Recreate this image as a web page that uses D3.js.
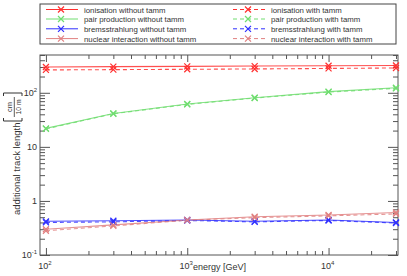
<!DOCTYPE html>
<html>
<head>
<meta charset="utf-8">
<script src="https://cdn.jsdelivr.net/npm/d3@7"></script>
<style>
  body { margin: 0; background: #fff; }
  svg { font-family: "Liberation Sans", Arial, sans-serif; }
</style>
</head>
<body>
<div id="chart"></div>
<script>
const energies = [100, 300, 1000, 3000, 10000, 30000];

const ionNo = [300, 305, 308, 312, 316, 320];
const ionTamm = [265, 268, 272, 276, 282, 288];
const pairNo = [22, 41.5, 62, 81, 105, 124];
const pairTamm = [21.5, 41, 61, 80, 103, 121];
const bremsNo = [0.42, 0.43, 0.445, 0.42, 0.445, 0.40];
const bremsTamm = [0.40, 0.41, 0.435, 0.41, 0.435, 0.39];
const nuclNo = [0.30, 0.36, 0.445, 0.51, 0.55, 0.61];
const nuclTamm = [0.28, 0.345, 0.44, 0.49, 0.53, 0.575];

const yMajor = [0.1, 1, 10, 100];
const xMajor = [100, 1000, 10000];

const series = [
  { name: 'ionisation without tamm', values: ionNo, color: '#ff3030', dash: null },
  { name: 'pair production without tamm', values: pairNo, color: '#70dd70', dash: null },
  { name: 'bremsstrahlung without tamm', values: bremsNo, color: '#3030ff', dash: null },
  { name: 'nuclear interaction without tamm', values: nuclNo, color: '#e08080', dash: null },
  { name: 'ionisation with tamm', values: ionTamm, color: '#ff3030', dash: '4,3' },
  { name: 'pair production with tamm', values: pairTamm, color: '#70dd70', dash: '4,3' },
  { name: 'bremsstrahlung with tamm', values: bremsTamm, color: '#3030ff', dash: '4,3' },
  { name: 'nuclear interaction with tamm', values: nuclTamm, color: '#e08080', dash: '4,3' }
];

const W = 407, H = 276;
const m = { left: 40, right: 9, top: 55, bottom: 21 };

const svg = d3.select('#chart').append('svg')
  .attr('width', W).attr('height', H);

const x = d3.scaleLog().domain([90.8, 31000]).range([m.left, W - m.right]);
const y = d3.scaleLog().domain([0.1, 500]).range([H - m.bottom, m.top]);

const axisColor = '#555';
const textColor = '#333';

// minor ticks
const xMinor = [];
[100, 1000, 10000].forEach(d => { for (let k = 2; k <= 9; k++) if (d * k <= 31000) xMinor.push(d * k); });
const yMinor = [];
[0.1, 1, 10, 100].forEach(d => { for (let k = 2; k <= 9; k++) if (d * k <= 500) yMinor.push(d * k); });

function styleAxis(g) {
  g.select('.domain').remove();
  g.selectAll('line').attr('stroke', axisColor);
  g.selectAll('text').remove();
}

svg.append('g').attr('transform', `translate(0,${H - m.bottom})`)
  .call(d3.axisBottom(x).tickValues(xMajor).tickSize(-7)).call(styleAxis);
svg.append('g').attr('transform', `translate(0,${H - m.bottom})`)
  .call(d3.axisBottom(x).tickValues(xMinor).tickSize(-4)).call(styleAxis);
svg.append('g').attr('transform', `translate(0,${m.top})`)
  .call(d3.axisTop(x).tickValues(xMajor).tickSize(-7)).call(styleAxis);
svg.append('g').attr('transform', `translate(0,${m.top})`)
  .call(d3.axisTop(x).tickValues(xMinor).tickSize(-4)).call(styleAxis);
svg.append('g').attr('transform', `translate(${m.left},0)`)
  .call(d3.axisLeft(y).tickValues(yMajor).tickSize(-10)).call(styleAxis);
svg.append('g').attr('transform', `translate(${m.left},0)`)
  .call(d3.axisLeft(y).tickValues(yMinor).tickSize(-5)).call(styleAxis);
svg.append('g').attr('transform', `translate(${W - m.right},0)`)
  .call(d3.axisRight(y).tickValues(yMajor).tickSize(-10)).call(styleAxis);
svg.append('g').attr('transform', `translate(${W - m.right},0)`)
  .call(d3.axisRight(y).tickValues(yMinor).tickSize(-5)).call(styleAxis);

svg.append('rect')
  .attr('x', m.left).attr('y', m.top)
  .attr('width', W - m.left - m.right).attr('height', H - m.top - m.bottom)
  .attr('fill', 'none').attr('stroke', axisColor).attr('stroke-width', 1);

// tick labels
function powLabel(sel, v) {
  const e = Math.round(Math.log10(v));
  if (e === 0) { sel.text('1'); return; }
  if (e === 1) { sel.text('10'); return; }
  sel.append('tspan').text('10');
  sel.append('tspan').attr('dy', -4).attr('font-size', 6).text(String(e));
}

svg.append('g').selectAll('text').data(xMajor).join('text')
  .attr('x', d => x(d) - 1).attr('y', H - 7)
  .attr('text-anchor', 'middle').attr('font-size', 9).attr('fill', textColor)
  .each(function(d) { powLabel(d3.select(this), d); });

svg.append('g').selectAll('text').data(yMajor).join('text')
  .attr('x', m.left - 3).attr('y', d => y(d) + 3)
  .attr('text-anchor', 'end').attr('font-size', 9).attr('fill', textColor)
  .each(function(d) { powLabel(d3.select(this), d); });

svg.append('text').attr('x', 193).attr('y', H - 6)
  .attr('font-size', 9).attr('fill', textColor).text('energy [GeV]');

// y axis title: text, then [cm / 10 m] in brackets
const yt = svg.append('g').attr('transform', 'translate(19.5,215) rotate(-90)');
yt.append('text').attr('x', 0).attr('y', 0)
  .attr('font-size', 9.5).attr('fill', textColor).text('additional track length');
const b0 = 94, b1 = 122;
yt.append('path').attr('d', `M${b0 + 3},-16 L${b0},-16 L${b0},2.5 L${b0 + 3},2.5`)
  .attr('fill', 'none').attr('stroke', textColor).attr('stroke-width', 1);
yt.append('path').attr('d', `M${b1 - 3},-16 L${b1},-16 L${b1},2.5 L${b1 - 3},2.5`)
  .attr('fill', 'none').attr('stroke', textColor).attr('stroke-width', 1);
const fc = (b0 + b1) / 2;
yt.append('text').attr('x', fc).attr('y', -7.5).attr('text-anchor', 'middle')
  .attr('font-size', 7.5).attr('fill', textColor).text('cm');
yt.append('line').attr('x1', b0 + 4).attr('x2', b1 - 4).attr('y1', -5.2).attr('y2', -5.2)
  .attr('stroke', textColor).attr('stroke-width', 0.8);
yt.append('text').attr('x', fc).attr('y', 1.5).attr('text-anchor', 'middle')
  .attr('font-size', 6.8).attr('fill', textColor).text('10 m');

// data
const line = d3.line().x((d, i) => x(energies[i])).y(d => y(d));
const plot = svg.append('g');

function cross(g, cx, cy, color) {
  const s = 3;
  g.append('path').attr('d', `M${cx - s},${cy - s}L${cx + s},${cy + s}M${cx - s},${cy + s}L${cx + s},${cy - s}`)
    .attr('stroke', color).attr('stroke-width', 1.2).attr('fill', 'none');
}

series.forEach(s => {
  plot.append('path').datum(s.values).attr('d', line)
    .attr('fill', 'none').attr('stroke', s.color).attr('stroke-width', 1.1)
    .attr('stroke-opacity', 0.85)
    .attr('stroke-dasharray', s.dash);
  s.values.forEach((v, i) => cross(plot, x(energies[i]), y(v), s.color));
});

// legend
svg.append('rect').attr('x', 40).attr('y', 4).attr('width', 356).attr('height', 40)
  .attr('fill', '#fff').attr('stroke', '#444').attr('stroke-width', 1);
const rowY = [9.5, 19, 28.8, 38.6];
series.forEach((s, i) => {
  const col = Math.floor(i / 4), row = i % 4;
  const x0 = col === 0 ? 46 : 233;
  const yy = rowY[row];
  const g = svg.append('g');
  g.append('line').attr('x1', x0).attr('x2', x0 + 32).attr('y1', yy).attr('y2', yy)
    .attr('stroke', s.color).attr('stroke-width', 1).attr('stroke-dasharray', s.dash);
  cross(g, x0 + 15, yy, s.color);
  g.append('text').attr('x', x0 + 38).attr('y', yy + 3)
    .attr('font-size', 7.8).attr('fill', textColor).text(s.name);
});
</script>
</body>
</html>
